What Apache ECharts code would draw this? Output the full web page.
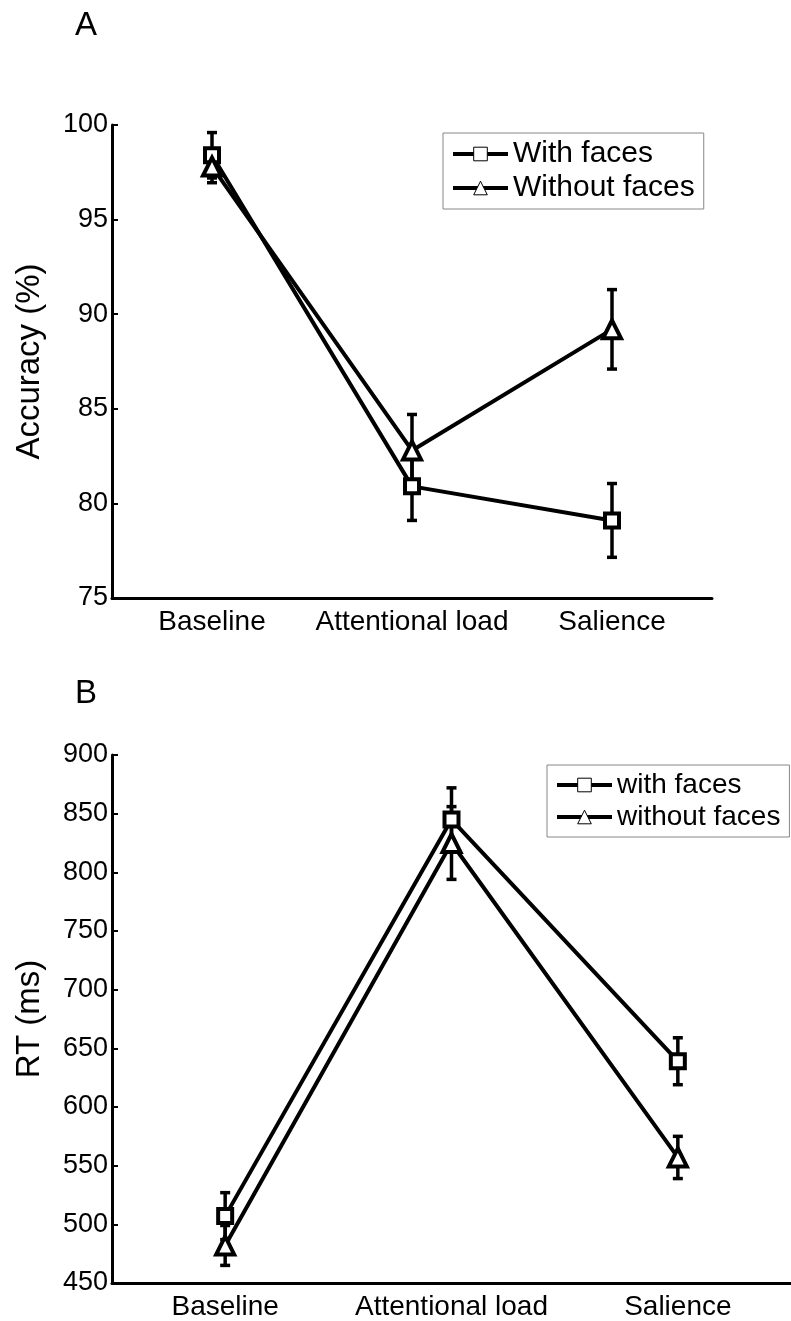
<!DOCTYPE html>
<html>
<head>
<meta charset="utf-8">
<script src="https://cdn.jsdelivr.net/npm/echarts@6/dist/echarts.min.js"></script>
<style>
html,body{margin:0;padding:0;background:#fff;}
#c{width:791px;height:1321px;}
</style>
</head>
<body>
<div id="c"></div>
<script>
const categories = ['Baseline', 'Attentional load', 'Salience'];
const accYTicks = [75, 80, 85, 90, 95, 100];
const rtYTicks = [450, 500, 550, 600, 650, 700, 750, 800, 850, 900];

const accWith = [98.4, 80.9, 79.1];
const accWithErr = [1.2, 1.8, 1.95];
const accWithout = [97.8, 82.8, 89.2];
const accWithoutErr = [0.85, 1.9, 2.1];

const rtWith = [507, 845, 639];
const rtWithErr = [20, 27, 20];
const rtWithout = [482, 825, 557];
const rtWithoutErr = [17, 31, 18];

const FONT = 'Liberation Sans, Arial, sans-serif';

function errData(vals, errs) {
  return vals.map((v, i) => [i, v - errs[i], v + errs[i]]);
}
function errSeries(x, y, vals, errs) {
  return {
    type: 'custom', xAxisIndex: x, yAxisIndex: y, z: 3, silent: true,
    data: errData(vals, errs),
    renderItem: function (params, api) {
      const lo = api.coord([api.value(0), api.value(1)]);
      const hi = api.coord([api.value(0), api.value(2)]);
      const w = 5;
      const st = {stroke: '#000', lineWidth: 3.5};
      return {type: 'group', children: [
        {type: 'line', shape: {x1: lo[0], y1: lo[1], x2: hi[0], y2: hi[1]}, style: st},
        {type: 'line', shape: {x1: lo[0] - w, y1: lo[1], x2: lo[0] + w, y2: lo[1]}, style: st},
        {type: 'line', shape: {x1: hi[0] - w, y1: hi[1], x2: hi[0] + w, y2: hi[1]}, style: st}
      ]};
    }
  };
}
function lineSeries(name, x, y, vals, symbol) {
  return {
    name: name, type: 'line', xAxisIndex: x, yAxisIndex: y, z: 4,
    data: vals, symbol: symbol, symbolSize: symbol === 'rect' ? 14 : 18,
    showAllSymbol: true,
    lineStyle: {color: '#000', width: 4},
    itemStyle: {color: '#fff', borderColor: '#000', borderWidth: 4},
    emphasis: {disabled: true}
  };
}
function xAxis(gi) {
  return {
    type: 'category', gridIndex: gi, data: categories, boundaryGap: true,
    axisLine: {lineStyle: {color: '#000', width: 3}},
    axisTick: {inside: true, alignWithLabel: true, length: 6, lineStyle: {color: '#000', width: 2}},
    axisLabel: {color: '#000', fontSize: 28, fontFamily: FONT, margin: 10, interval: 0},
    splitLine: {show: false}
  };
}
function yAxis(gi, ticks, name, gap) {
  return {
    type: 'value', gridIndex: gi, min: ticks[0], max: ticks[ticks.length - 1],
    interval: ticks[1] - ticks[0],
    name: name, nameLocation: 'middle', nameGap: gap, nameRotate: 90,
    nameTextStyle: {color: '#000', fontSize: 33, fontFamily: FONT},
    axisLine: {show: true, lineStyle: {color: '#000', width: 3}},
    axisTick: {show: true, inside: true, length: 6, lineStyle: {color: '#000', width: 2}},
    axisLabel: {color: '#000', fontSize: 27, fontFamily: FONT, margin: 4},
    splitLine: {show: false}
  };
}
function legend(names, left, top, fs) {
  return {
    data: names, orient: 'vertical', left: left, top: top,
    padding: [6, 9, 6, 8], itemGap: 4, itemWidth: 55, itemHeight: 17,
    borderColor: '#888', borderWidth: 1, backgroundColor: '#fff',
    lineStyle: {color: '#000', width: 4},
    itemStyle: {borderWidth: 1, color: '#fff', borderColor: '#000'},
    textStyle: {fontSize: fs, color: '#000', fontFamily: FONT, padding: [0, 0, 0, 0]}
  };
}

const chart = echarts.init(document.getElementById('c'), null, {renderer: 'canvas'});
chart.setOption({
  backgroundColor: '#fff',
  animation: false,
  title: [
    {text: 'A', left: 70, top: 4, textStyle: {fontSize: 33, fontWeight: 'normal', color: '#000', fontFamily: FONT}},
    {text: 'B', left: 70, top: 672, textStyle: {fontSize: 33, fontWeight: 'normal', color: '#000', fontFamily: FONT}}
  ],
  grid: [
    {left: 112, top: 125, width: 600, height: 473},
    {left: 112, top: 755, width: 685, height: 528}
  ],
  legend: [
    legend(['With faces', 'Without faces'], 443, 133, 30),
    legend(['with faces', 'without faces'], 547, 765, 28)
  ],
  xAxis: [xAxis(0), xAxis(1)],
  yAxis: [yAxis(0, accYTicks, 'Accuracy (%)', 66), yAxis(1, rtYTicks, 'RT (ms)', 66)],
  series: [
    errSeries(0, 0, accWith, accWithErr),
    errSeries(0, 0, accWithout, accWithoutErr),
    lineSeries('With faces', 0, 0, accWith, 'rect'),
    lineSeries('Without faces', 0, 0, accWithout, 'triangle'),
    errSeries(1, 1, rtWith, rtWithErr),
    errSeries(1, 1, rtWithout, rtWithoutErr),
    lineSeries('with faces', 1, 1, rtWith, 'rect'),
    lineSeries('without faces', 1, 1, rtWithout, 'triangle')
  ]
});
</script>
</body>
</html>
